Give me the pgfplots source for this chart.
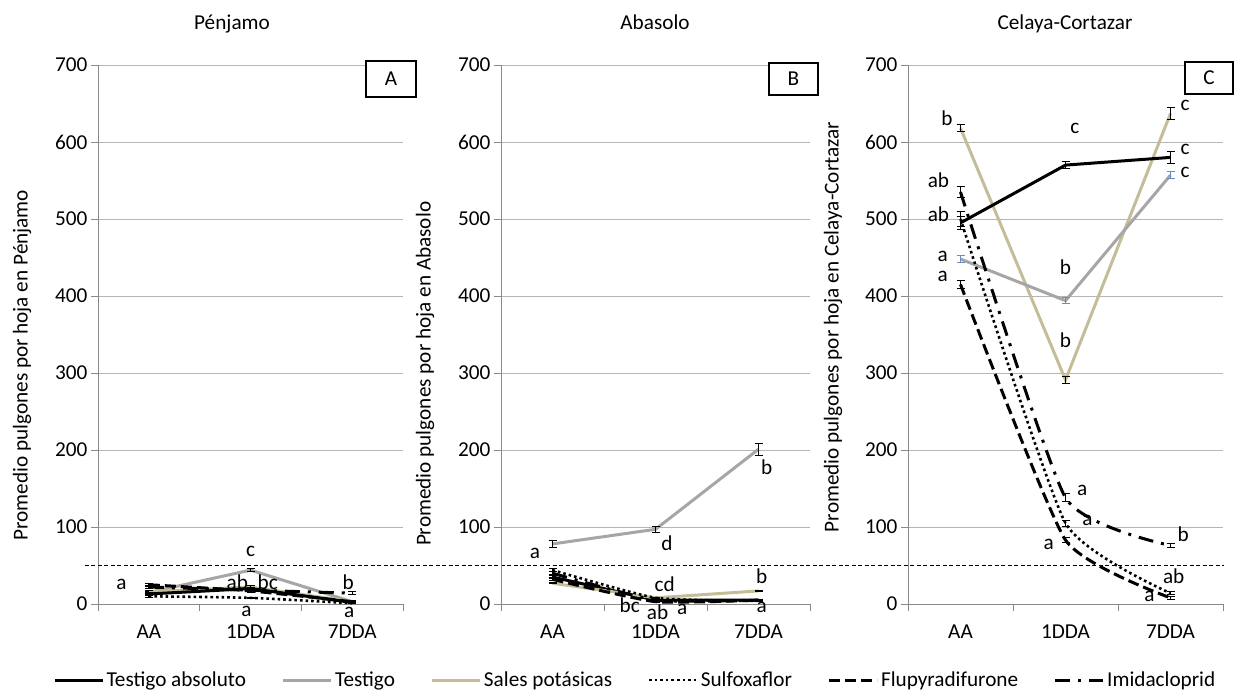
\documentclass[border=0pt]{standalone}
\usepackage{fontspec}
\setmainfont{Carlito}
\usepackage{pgfplots}
\pgfplotsset{compat=1.18}
\definecolor{tgray}{HTML}{A6A6A6}
\definecolor{tanc}{HTML}{C4BD97}
\definecolor{axgray}{HTML}{898989}
\definecolor{gridgray}{HTML}{B5B5B5}
\definecolor{ebblue}{HTML}{6A8CC8}
\newcommand{\fs}{\fontsize{21.3}{25}\selectfont}
\tikzset{lbl/.style={font=\fs, inner sep=0pt}}
\pgfplotsset{
 panel/.style={
  scale only axis, height=539bp, ymin=0, ymax=700, xmin=-0.5, xmax=2.5,
  ytick={0,100,...,700}, ymajorgrids, grid style={gridgray, line width=0.8bp},
  axis x line*=bottom, axis y line*=left,
  axis line style={axgray, line width=0.8bp, -},
  tick align=outside, major tick length=7bp,
  tick style={axgray, line width=0.8bp},
  xtick={-0.5,0.5,1.5,2.5}, xticklabels={},
  extra x ticks={0,1,2}, extra x tick labels={AA,1DDA,7DDA},
  extra x tick style={major tick length=0pt, xticklabel style={yshift=-17bp}},
  tick label style={font=\fs, text=black},
  label style={font=\fs},
  /pgf/number format/assume math mode=true,
  clip=false, anchor=south west,
 },
 sabs/.style={black, line width=3bp},
 stest/.style={tgray, line width=3bp},
 ssal/.style={tanc, line width=3bp},
 ssul/.style={black, line width=2.6bp, dash pattern=on 2.6bp off 3bp, smooth, tension=0.3},
 sflu/.style={black, line width=3bp, dash pattern=on 11bp off 5bp, smooth, tension=0.3},
 simi/.style={black, line width=3bp, dash pattern=on 15bp off 8bp on 3bp off 8bp, smooth, tension=0.3},
 eb/.style={error bars/y dir=both, error bars/y explicit,
   error bars/error bar style={#1, line width=1bp, solid},
   error bars/error mark options={#1, rotate=90, mark size=4bp, line width=1bp, solid}},
 eb/.default=black,
}
\begin{document}
\begin{tikzpicture}
\useasboundingbox (0,0) rectangle (1236bp,694bp);

% ---------------- Panel A ----------------
\begin{axis}[panel, at={(98bp,90bp)}, width=305bp,
  ylabel={Promedio pulgones por hoja en Pénjamo},
  ylabel style={at={(axis description cs:-0.249,0.443)}, anchor=center}]
\draw[black, line width=1.2bp, dash pattern=on 4bp off 2.5bp] (axis cs:-0.628,50) -- (axis cs:10.58,50);
\addplot[stest, eb] coordinates {(0,15) +- (0,1) (1,44) +- (0,2) (2,3) +- (0,1)};
\addplot[ssal, eb] coordinates {(0,16) +- (0,1) (1,22) +- (0,2) (2,3) +- (0,1)};
\addplot[sabs, eb] coordinates {(0,13) +- (0,1) (1,20) +- (0,2) (2,2) +- (0,1)};
\addplot[ssul, eb] coordinates {(0,10) +- (0,1) (1,8) +- (0,1) (2,1) +- (0,1)};
\addplot[sflu, eb] coordinates {(0,25) +- (0,2) (1,17) +- (0,2) (2,3) +- (0,1)};
\addplot[simi, eb] coordinates {(0,22) +- (0,2) (1,18) +- (0,2) (2,14) +- (0,2)};
\node[lbl] at (axis cs:-0.27,25) {a};
\node[lbl] at (axis cs:1.0,68) {c};
\node[lbl] at (axis cs:0.87,28) {ab};
\node[lbl] at (axis cs:1.17,28) {bc};
\node[lbl] at (axis cs:0.96,-9) {a};
\node[lbl] at (axis cs:1.96,28) {b};
\node[lbl] at (axis cs:1.97,-11) {a};
\end{axis}

% ---------------- Panel B ----------------
\begin{axis}[panel, at={(501bp,90bp)}, width=309bp,
  ylabel={Promedio pulgones por hoja en Abasolo},
  ylabel style={at={(axis description cs:-0.246,0.427)}, anchor=center},
  legend columns=6,
  legend style={at={(axis description cs:0.435,-0.141)}, anchor=center, draw=none,
    font=\fs, nodes={inner xsep=2.5bp},
    /tikz/every even column/.append style={column sep=33bp}},
  legend image code/.code={\draw[#1] (0bp,0bp) -- (48bp,0bp);}]
\addplot[sabs, eb] coordinates {(0,35) +- (0,2) (1,5) +- (0,1) (2,5) +- (0,1)};
\addlegendentry{Testigo absoluto}
\addplot[stest, eb] coordinates {(0,78) +- (0,4) (1,97) +- (0,4) (2,201) +- (0,8)};
\addlegendentry{Testigo}
\addplot[ssal, eb] coordinates {(0,27) +- (0,1) (1,8) +- (0,1) (2,17) +- (0,1)};
\addlegendentry{Sales potásicas}
\addplot[ssul, eb] coordinates {(0,44) +- (0,2) (1,8) +- (0,1) (2,4) +- (0,1)};
\addlegendentry{Sulfoxaflor}
\addplot[sflu, eb] coordinates {(0,32) +- (0,2) (1,3) +- (0,1) (2,5) +- (0,1)};
\addlegendentry{Flupyradifurone}
\addplot[simi, eb] coordinates {(0,40) +- (0,2) (1,5) +- (0,1) (2,5) +- (0,1)};
\addlegendentry{Imidacloprid}
\node[lbl] at (axis cs:-0.17,66) {a};
\node[lbl] at (axis cs:1.11,79) {d};
\node[lbl] at (axis cs:2.08,178) {b};
\node[lbl] at (axis cs:1.09,26) {cd};
\node[lbl] at (axis cs:0.75,-2) {bc};
\node[lbl] at (axis cs:1.02,-11) {ab};
\node[lbl] at (axis cs:1.26,-7) {a};
\node[lbl] at (axis cs:2.03,36) {b};
\node[lbl] at (axis cs:2.03,-5) {a};
\end{axis}

% ---------------- Panel C ----------------
\begin{axis}[panel, at={(908bp,90bp)}, width=315bp,
  ylabel={Promedio pulgones por hoja en Celaya-Cortazar},
  ylabel style={at={(axis description cs:-0.238,0.514)}, anchor=center}]
\addplot[ssal, eb] coordinates {(0,618) +- (0,5) (1,291) +- (0,5) (2,637) +- (0,8)};
\addplot[stest, eb=ebblue] coordinates {(0,448) +- (0,4) (1,394) +- (0,4) (2,557) +- (0,5)};
\addplot[sabs, eb] coordinates {(0,495) +- (0,8) (1,570) +- (0,5) (2,580) +- (0,8)};
\addplot[ssul, eb] coordinates {(0,500) +- (0,10) (1,105) +- (0,4) (2,14) +- (0,2)};
\addplot[sflu, eb] coordinates {(0,415) +- (0,5) (1,83) +- (0,3) (2,8) +- (0,2)};
\addplot[simi, eb] coordinates {(0,535) +- (0,7) (1,138) +- (0,5) (2,76) +- (0,3)};
\node[lbl] at (axis cs:-0.13,631) {b};
\node[lbl] at (axis cs:1.09,618) {c};
\node[lbl] at (axis cs:2.14,647) {c};
\node[lbl] at (axis cs:2.14,591) {c};
\node[lbl] at (axis cs:2.14,561) {c};
\node[lbl] at (axis cs:-0.21,551) {ab};
\node[lbl] at (axis cs:-0.21,506) {ab};
\node[lbl] at (axis cs:-0.17,452) {a};
\node[lbl] at (axis cs:-0.17,426) {a};
\node[lbl] at (axis cs:1.0,438) {b};
\node[lbl] at (axis cs:1.0,342) {b};
\node[lbl] at (axis cs:1.16,147) {a};
\node[lbl] at (axis cs:1.21,108) {a};
\node[lbl] at (axis cs:0.84,78) {a};
\node[lbl] at (axis cs:2.12,91) {b};
\node[lbl] at (axis cs:2.03,36) {ab};
\node[lbl] at (axis cs:1.8,10) {a};
\end{axis}

% titles
\node[font=\fs, anchor=base] at (232bp,664bp) {Pénjamo};
\node[font=\fs, anchor=base] at (655bp,664bp) {Abasolo};
\node[font=\fs, anchor=base] at (1065bp,664bp) {Celaya-Cortazar};
% panel letters
\draw[black, line width=1.3bp, fill=white] (366bp,597bp) rectangle (416bp,633bp);
\node[font=\fs] at (391bp,615bp) {A};
\draw[black, line width=1.3bp, fill=white] (769bp,599bp) rectangle (818bp,631bp);
\node[font=\fs] at (793.5bp,615bp) {B};
\draw[black, line width=1.3bp, fill=white] (1185bp,600bp) rectangle (1233bp,632bp);
\node[font=\fs] at (1209bp,616bp) {C};
\end{tikzpicture}
\end{document}
